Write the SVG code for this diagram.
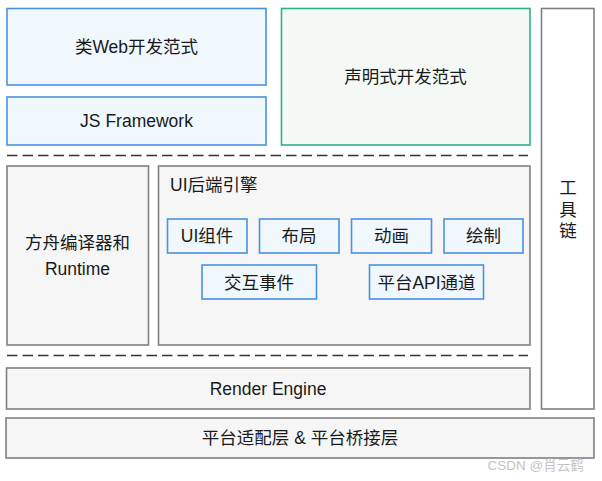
<svg xmlns="http://www.w3.org/2000/svg" width="602" height="481" viewBox="0 0 602 481">
<style>
.blue{fill:#f0f7fd;stroke:#4a92e0;stroke-width:1.6}
.green{fill:#f5f9f5;stroke:#2fb08c;stroke-width:1.6}
.gray{fill:#f6f6f6;stroke:#808080;stroke-width:1.6}
.white{fill:#ffffff;stroke:#808080;stroke-width:1.6}
.t{font-family:"Liberation Sans","Noto Sans CJK SC",sans-serif;font-size:17.5px;fill:#1a1a1a;text-anchor:middle;dominant-baseline:central}
.tl{font-family:"Liberation Sans","Noto Sans CJK SC",sans-serif;font-size:17.5px;fill:#1a1a1a;dominant-baseline:central}
.dash{stroke:#333333;stroke-width:1.6;stroke-dasharray:10.5 5;fill:none}
.wm{font-family:"Liberation Sans","Noto Sans CJK SC",sans-serif;font-size:13.5px;fill:#c4c4c4}
</style>
<rect width="602" height="481" fill="#ffffff"/>
<g id="web-paradigm"><rect class="blue" x="7" y="8.5" width="259" height="76.5"/><text class="t" x="136.5" y="47">类Web开发范式</text></g>
<g id="js-framework"><rect class="blue" x="7" y="97" width="259" height="48"/><text class="t" x="136.5" y="121">JS Framework</text></g>
<g id="declarative"><rect class="green" x="281.5" y="8.5" width="248.5" height="136.5"/><text class="t" x="405.5" y="77">声明式开发范式</text></g>
<g id="toolchain"><rect class="white" x="541.5" y="8.5" width="52.5" height="400.5"/><text class="t" x="568" y="188">工</text><text class="t" x="568" y="209.5">具</text><text class="t" x="568" y="231">链</text></g>
<g id="connectors"><line class="dash" x1="7" y1="155.5" x2="528" y2="155.5"/><line class="dash" x1="7" y1="355.5" x2="528" y2="355.5"/></g>
<g id="ark-compiler"><rect class="gray" x="7" y="166" width="141.5" height="179"/><text class="t" x="77.5" y="243">方舟编译器和</text><text class="t" x="77.5" y="268.5">Runtime</text></g>
<g id="ui-backend"><rect class="gray" x="158.5" y="166" width="371.5" height="179"/><text class="tl" x="170" y="185">UI后端引擎</text></g>
<g id="ui-components"><rect class="blue" x="167.5" y="219" width="79.5" height="34"/><text class="t" x="207" y="236">UI组件</text></g>
<g id="layout"><rect class="blue" x="259.5" y="219" width="79.5" height="34"/><text class="t" x="299" y="236">布局</text></g>
<g id="animation"><rect class="blue" x="351.5" y="219" width="80" height="34"/><text class="t" x="391.5" y="236">动画</text></g>
<g id="drawing"><rect class="blue" x="444" y="219" width="79" height="34"/><text class="t" x="483.5" y="236">绘制</text></g>
<g id="events"><rect class="blue" x="202" y="265" width="114.5" height="34"/><text class="t" x="259" y="282.5">交互事件</text></g>
<g id="platform-api"><rect class="blue" x="369.5" y="265" width="114" height="34"/><text class="t" x="426.5" y="282.5">平台API通道</text></g>
<g id="render-engine"><rect class="gray" x="6.5" y="368" width="523.5" height="41"/><text class="t" x="268" y="389">Render Engine</text></g>
<g id="platform-layer"><rect class="gray" x="6" y="418" width="588" height="40"/><text class="t" x="300" y="438">平台适配层 &amp; 平台桥接层</text></g>
<text class="wm" x="487.5" y="469.5">CSDN @肖云鹤</text>
</svg>
